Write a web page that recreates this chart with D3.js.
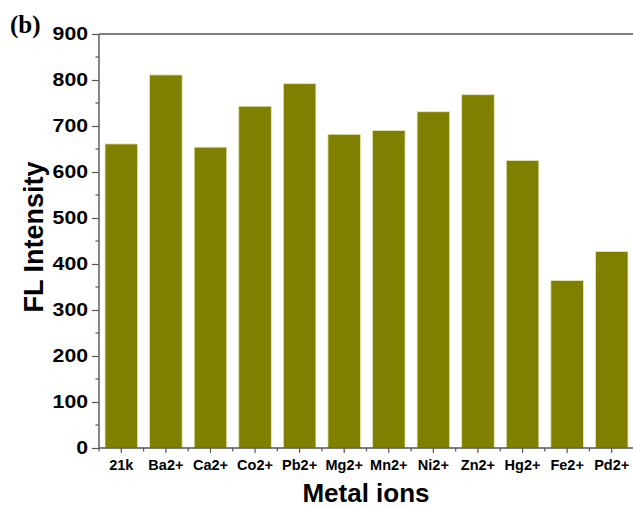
<!DOCTYPE html>
<html>
<head>
<meta charset="utf-8">
<script src="https://cdn.jsdelivr.net/npm/d3@7"></script>
<style>
  html, body { margin: 0; padding: 0; background: #fff; }
  svg { display: block; }
  text { font-weight: bold; fill: #000; }
</style>
</head>
<body>
<svg id="chart" width="633" height="508"></svg>
<script>
// Fluorescence intensity of the probe with different metal ions
const ions = ["21k", "Ba2+", "Ca2+", "Co2+", "Pb2+", "Mg2+", "Mn2+", "Ni2+", "Zn2+", "Hg2+", "Fe2+", "Pd2+"];
const intensity = [661, 811, 654, 743, 792, 682, 690, 731, 768, 625, 364, 427];
const yTicks = [0, 100, 200, 300, 400, 500, 600, 700, 800, 900];

const sans = "'Liberation Sans', Arial, sans-serif";
const serif = "'Liberation Serif', 'Times New Roman', serif";

const svg = d3.select("#chart");
const plotLeft = 99, plotRight = 634, plotTop = 34, plotBottom = 448;
const axisColor = "#555";

const x = d3.scaleBand().domain(ions).range([plotLeft, plotRight]).paddingInner(0.27).paddingOuter(0.135);
const y = d3.scaleLinear().domain([0, 900]).range([plotBottom, plotTop]);

// bars
svg.append("g").selectAll("rect").data(ions).join("rect")
  .attr("x", d => x(d))
  .attr("y", (d, i) => y(intensity[i]))
  .attr("width", x.bandwidth())
  .attr("height", (d, i) => y(0) - y(intensity[i]))
  .attr("fill", "#808000")
  .attr("stroke", "#e6e6b4")
  .attr("stroke-width", 0.8);

// y axis
const yAxis = svg.append("g").attr("transform", `translate(${plotLeft},0)`)
  .call(d3.axisLeft(y).tickValues(yTicks).tickSize(7).tickPadding(4).tickFormat(d3.format("d")));
yAxis.select(".domain").remove();
yAxis.selectAll(".tick line").attr("stroke", axisColor).attr("stroke-width", 1.2);
// labels drawn slightly wide, as in the plotting package's bold numerals
yAxis.selectAll(".tick text")
  .attr("x", 0)
  .attr("transform", "translate(-11,0) scale(1.18,1)")
  .style("font-family", sans).style("font-weight", "bold").style("font-size", "18px");
// minor ticks on y
svg.append("g").selectAll("line").data(d3.range(50, 900, 100)).join("line")
  .attr("x1", plotLeft - 3.5).attr("x2", plotLeft)
  .attr("y1", d => y(d)).attr("y2", d => y(d))
  .attr("stroke", axisColor).attr("stroke-width", 1.2);

// x axis
const xAxis = svg.append("g").attr("transform", `translate(0,${plotBottom})`)
  .call(d3.axisBottom(x).tickSize(5).tickPadding(7));
xAxis.select(".domain").remove();
xAxis.selectAll(".tick line").attr("stroke", axisColor).attr("stroke-width", 1.2);
xAxis.selectAll(".tick text")
  .style("font-family", sans).style("font-weight", "bold").style("font-size", "14.5px");
// minor ticks between categories
const step = x.step();
svg.append("g").selectAll("line").data(ions).join("line")
  .attr("x1", d => x(d) + x.bandwidth() / 2 - step / 2)
  .attr("x2", d => x(d) + x.bandwidth() / 2 - step / 2)
  .attr("y1", plotBottom).attr("y2", plotBottom + 3.5)
  .attr("stroke", axisColor).attr("stroke-width", 1.2);

// frame lines
svg.append("line").attr("x1", plotLeft).attr("x2", 633).attr("y1", plotBottom).attr("y2", plotBottom)
  .attr("stroke", axisColor).attr("stroke-width", 1.4);
svg.append("line").attr("x1", plotLeft).attr("x2", 633).attr("y1", plotTop).attr("y2", plotTop)
  .attr("stroke", axisColor).attr("stroke-width", 1.4);
svg.append("line").attr("x1", plotLeft).attr("x2", plotLeft).attr("y1", plotTop).attr("y2", plotBottom)
  .attr("stroke", axisColor).attr("stroke-width", 1.4);

// axis titles
svg.append("text").attr("x", 366).attr("y", 502).attr("text-anchor", "middle")
  .style("font-family", sans).style("font-size", "26px").text("Metal ions");
svg.append("text").attr("transform", "translate(43,237) rotate(-90)").attr("text-anchor", "middle")
  .style("font-family", sans).style("font-size", "27px").text("FL Intensity");

// panel label
svg.append("text").attr("x", 10).attr("y", 33)
  .style("font-family", serif).style("font-size", "25px").text("(b)");
</script>
</body>
</html>
